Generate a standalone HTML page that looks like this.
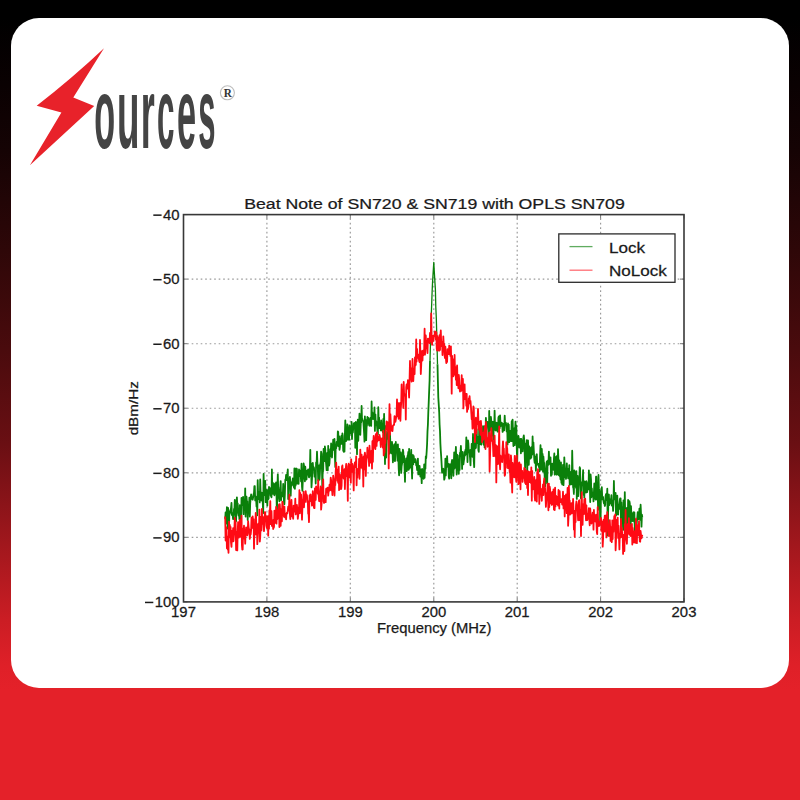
<!DOCTYPE html>
<html><head><meta charset="utf-8">
<style>
html,body{margin:0;padding:0;}
body{width:800px;height:800px;overflow:hidden;position:relative;
background:linear-gradient(to bottom,rgb(0,0,0) 0px,rgb(0,0,0) 18px,rgb(10,1,2) 84px,rgb(21,3,4) 150px,rgb(46,7,8) 250px,rgb(74,11,13) 350px,rgb(106,15,19) 444px,rgb(174,25,31) 568px,rgb(203,29,36) 620px,rgb(223,32,40) 665px,rgb(228,33,41) 690px,rgb(228,33,41) 800px);
font-family:"Liberation Sans",sans-serif;}
#card{position:absolute;left:10.5px;top:18px;width:778.5px;height:670.3px;background:#fff;border-radius:28px;}
svg{position:absolute;left:0;top:0;}
</style></head><body>
<div id="card"></div>
<svg width="800" height="800" viewBox="0 0 800 800">
<path d="M104,48.2L73.3,97.6L94.2,106L29.9,165.2L61.4,112.6L36.7,105.7Q71.7,78.6 104,48.2Z" fill="#e8222a"/>
<g fill="#444" font-family="Liberation Sans" font-weight="bold" font-size="100.6">
<text transform="translate(94.37,148.30) scale(0.3396,1)">o</text>
<text transform="translate(117.01,148.30) scale(0.3664,1)">u</text>
<text transform="translate(140.63,148.30) scale(0.3581,1)">r</text>
<text transform="translate(157.07,148.30) scale(0.3118,1)">c</text>
<text transform="translate(177.06,148.30) scale(0.3417,1)">e</text>
<text transform="translate(198.31,148.30) scale(0.3086,1)">s</text>
</g>
<circle cx="227.4" cy="92.8" r="7.0" fill="none" stroke="#bdbdbd" stroke-width="1.1"/>
<text transform="translate(227.8,96.9) scale(0.88,1)" text-anchor="middle" font-family="Liberation Serif" font-weight="bold" font-size="12.8" fill="#333">R</text>

<g stroke="#9a9a9a" stroke-width="1.15" stroke-dasharray="1.6 2.9" stroke-dashoffset="0.8" fill="none">
<line x1="266.9" y1="214.6" x2="266.9" y2="601.9"/><line x1="350.3" y1="214.6" x2="350.3" y2="601.9"/><line x1="433.8" y1="214.6" x2="433.8" y2="601.9"/><line x1="517.2" y1="214.6" x2="517.2" y2="601.9"/><line x1="600.6" y1="214.6" x2="600.6" y2="601.9"/><line x1="183.5" y1="279.1" x2="684.0" y2="279.1"/><line x1="183.5" y1="343.7" x2="684.0" y2="343.7"/><line x1="183.5" y1="408.2" x2="684.0" y2="408.2"/><line x1="183.5" y1="472.8" x2="684.0" y2="472.8"/><line x1="183.5" y1="537.3" x2="684.0" y2="537.3"/>
</g>
<g fill="none" stroke="#0a800a" stroke-linejoin="round">
<polyline points="225.2,518.8 225.6,512.3 226.0,523.6 226.5,517.6 226.9,507.2 227.3,513.3 227.7,528.5 228.1,507.9 228.5,528.1 229.0,528.3 229.4,511.5 229.8,514.0 230.2,510.9 230.6,509.9 231.0,508.3 231.5,502.9 231.9,515.0 232.3,512.8 232.7,515.3 233.1,519.2 233.5,517.7 234.0,508.9 234.4,510.2 234.8,499.8 235.2,510.9 235.6,516.4 236.1,521.3 236.5,502.5 236.9,497.3 237.3,505.7 237.7,503.4 238.1,513.1 238.6,515.6 239.0,511.9 239.4,519.1 239.8,505.1 240.2,522.1 240.6,526.8 241.1,532.3 241.5,498.0 241.9,503.5 242.3,503.5 242.7,505.0 243.1,496.8 243.6,514.2 244.0,501.0 244.4,499.7 244.8,508.6 245.2,488.3 245.6,516.6 246.1,502.2 246.5,496.7 246.9,502.4 247.3,501.3 247.7,520.0 248.1,509.6 248.6,510.2 249.0,509.1 249.4,497.6 249.8,516.5 250.2,503.1 250.7,497.6 251.1,494.5 251.5,497.0 251.9,498.8 252.3,498.7 252.7,499.6 253.2,496.8 253.6,494.2 254.0,492.7 254.4,486.1 254.8,486.2 255.2,500.4 255.7,496.5 256.1,498.1 256.5,506.5 256.9,500.9 257.3,515.3 257.7,480.1 258.2,498.1 258.6,499.1 259.0,492.0 259.4,494.2 259.8,502.4 260.2,479.5 260.7,496.5 261.1,495.2 261.5,500.5 261.9,492.7 262.3,494.1 262.7,501.4 263.2,513.0 263.6,473.9 264.0,495.3 264.4,492.9 264.8,488.2 265.2,480.8 265.7,502.2 266.1,492.0 266.5,496.1 266.9,490.0 267.3,505.7 267.8,490.6 268.2,499.3 268.6,498.6 269.0,487.0 269.4,489.8 269.8,488.0 270.3,489.9 270.7,495.6 271.1,495.3 271.5,497.3 271.9,469.5 272.3,488.8 272.8,482.7 273.2,493.9 273.6,488.8 274.0,484.1 274.4,495.3 274.8,493.0 275.3,483.3 275.7,493.5 276.1,482.4 276.5,494.0 276.9,515.4 277.3,490.8 277.8,474.3 278.2,488.2 278.6,490.0 279.0,498.4 279.4,501.4 279.8,492.8 280.3,487.7 280.7,481.1 281.1,500.1 281.5,492.5 281.9,494.5 282.3,493.3 282.8,496.4 283.2,483.8 283.6,491.7 284.0,502.1 284.4,504.3 284.9,493.2 285.3,479.7 285.7,479.8 286.1,474.9 286.5,480.2 286.9,478.1 287.4,474.6 287.8,469.4 288.2,499.1 288.6,492.2 289.0,479.0 289.4,479.9 289.9,476.9 290.3,481.5 290.7,495.6 291.1,484.8 291.5,482.5 291.9,485.7 292.4,482.7 292.8,478.5 293.2,482.6 293.6,480.5 294.0,487.7 294.4,468.5 294.9,488.8 295.3,471.4 295.7,485.4 296.1,468.5 296.5,475.4 296.9,468.9 297.4,483.6 297.8,477.1 298.2,481.1 298.6,483.9 299.0,469.5 299.4,471.1 299.9,470.5 300.3,476.0 300.7,474.9 301.1,481.4 301.5,463.7 302.0,486.7 302.4,490.8 302.8,480.7 303.2,477.1 303.6,463.5 304.0,465.7 304.5,470.5 304.9,481.3 305.3,466.7 305.7,474.6 306.1,478.9 306.5,479.5 307.0,470.9 307.4,470.5 307.8,470.7 308.2,469.3 308.6,475.1 309.0,477.4 309.5,475.9 309.9,469.9 310.3,449.8 310.7,475.7 311.1,463.5 311.5,487.3 312.0,479.2 312.4,468.0 312.8,462.9 313.2,468.7 313.6,467.0 314.0,467.9 314.5,476.6 314.9,472.9 315.3,471.1 315.7,483.5 316.1,462.5 316.5,467.2 317.0,451.7 317.4,462.0 317.8,467.4 318.2,480.3 318.6,480.7 319.1,465.5 319.5,479.6 319.9,473.2 320.3,464.1 320.7,462.0 321.1,451.6 321.6,453.9 322.0,471.4 322.4,493.6 322.8,462.0 323.2,470.9 323.6,448.8 324.1,455.1 324.5,461.2 324.9,446.5 325.3,449.7 325.7,460.0 326.1,463.6 326.6,470.2 327.0,453.1 327.4,454.5 327.8,470.3 328.2,445.8 328.6,461.0 329.1,465.7 329.5,463.2 329.9,454.7 330.3,449.1 330.7,456.2 331.1,443.5 331.6,450.9 332.0,457.5 332.4,448.9 332.8,447.8 333.2,439.6 333.7,445.4 334.1,450.3 334.5,439.0 334.9,456.3 335.3,467.0 335.7,447.0 336.2,448.1 336.6,442.0 337.0,445.4 337.4,445.7 337.8,431.5 338.2,431.9 338.7,446.1 339.1,436.2 339.5,449.8 339.9,447.1 340.3,439.0 340.7,441.1 341.2,436.2 341.6,443.9 342.0,438.2 342.4,433.4 342.8,436.0 343.2,450.5 343.7,451.8 344.1,443.1 344.5,451.6 344.9,434.3 345.3,420.4 345.7,432.0 346.2,441.0 346.6,431.2 347.0,437.2 347.4,424.3 347.8,439.5 348.2,432.3 348.7,427.1 349.1,439.8 349.5,425.3 349.9,434.0 350.3,427.2 350.8,429.0 351.2,433.2 351.6,421.8 352.0,439.0 352.4,427.1 352.8,432.6 353.3,428.2 353.7,423.6 354.1,423.1 354.5,428.2 354.9,423.0 355.3,447.8 355.8,421.9 356.2,426.2 356.6,427.7 357.0,454.2 357.4,425.5 357.8,419.7 358.3,440.8 358.7,422.7 359.1,423.0 359.5,413.6 359.9,430.0 360.3,434.9 360.8,422.0 361.2,422.4 361.6,406.0 362.0,419.5 362.4,419.0 362.8,420.7 363.3,420.8 363.7,426.8 364.1,433.0 364.5,441.6 364.9,416.5 365.3,427.0 365.8,419.9 366.2,440.2 366.6,426.8 367.0,425.3 367.4,416.9 367.9,419.7 368.3,417.9 368.7,422.3 369.1,425.0 369.5,425.7 369.9,420.4 370.4,417.8 370.8,425.6 371.2,425.9 371.6,401.4 372.0,419.1 372.4,412.3 372.9,415.7 373.3,414.3 373.7,419.1 374.1,418.7 374.5,407.4 374.9,430.9 375.4,414.4 375.8,424.0 376.2,421.1 376.6,423.2 377.0,426.2 377.4,430.9 377.9,434.6 378.3,407.2 378.7,422.1 379.1,417.6 379.5,428.0 379.9,425.3 380.4,422.5 380.8,430.4 381.2,420.5 381.6,427.8 382.0,428.0 382.4,430.3 382.9,432.2 383.3,419.0 383.7,436.0 384.1,413.8 384.5,436.1 385.0,464.1 385.4,426.2 385.8,456.0 386.2,457.6 386.6,435.2 387.0,439.2 387.5,431.3 387.9,434.6 388.3,428.1 388.7,440.5 389.1,453.8 389.5,452.7 390.0,433.6 390.4,445.0 390.8,451.9 391.2,453.3 391.6,449.6 392.0,441.8 392.5,449.3 392.9,462.3 393.3,449.8 393.7,460.0 394.1,445.0 394.5,444.2 395.0,461.1 395.4,454.6 395.8,442.0 396.2,450.5 396.6,447.0 397.0,445.3 397.5,460.6 397.9,444.3 398.3,454.7 398.7,468.7 399.1,475.3 399.5,448.8 400.0,469.7 400.4,457.2 400.8,452.5 401.2,472.9 401.6,466.4 402.1,463.4 402.5,455.9 402.9,449.7 403.3,451.9 403.7,462.0 404.1,456.0 404.6,469.2 405.0,481.8 405.4,462.6 405.8,465.4 406.2,458.3 406.6,471.2 407.1,469.9 407.5,455.8 407.9,455.9 408.3,451.9 408.7,469.8 409.1,448.8 409.6,468.4 410.0,456.9 410.4,467.2 410.8,459.9 411.2,449.9 411.6,463.7 412.1,478.5 412.5,455.5 412.9,454.9 413.3,464.3 413.7,456.0 414.1,459.8 414.6,462.0 415.0,461.0 415.4,459.2 415.8,460.7 416.2,465.5 416.6,463.2 417.1,470.0 417.5,467.3 417.9,458.6 418.3,474.4 418.7,467.0 419.2,474.0 419.6,466.0 420.0,473.1 420.4,476.6 420.8,469.7 421.2,471.6 421.7,483.2 422.1,469.0 422.5,471.4 422.9,477.5 423.3,475.3 423.7,478.8 424.2,464.4 424.6,477.8 425.0,466.9 425.4,468.6 425.8,456.3 426.2,458.3 426.7,451.0 427.1,443.8 427.5,431.4 427.9,424.7 428.3,412.5 428.7,402.9 429.2,390.0 429.6,380.5 430.0,360.5" stroke-width="1.8"/>
<polyline points="430.0,360.5 430.4,345.9 430.8,332.7 431.2,316.6 431.7,303.7 432.1,292.2 432.5,283.4 432.9,276.6 433.3,270.1 433.8,262.4 434.2,270.1 434.6,276.6 435.0,283.4 435.4,289.5 435.8,307.1 436.3,318.0 436.7,332.2 437.1,347.8 437.5,364.3" stroke-width="1.3"/>
<polyline points="437.5,364.3 437.9,381.4 438.3,397.5 438.8,405.4 439.2,412.5 439.6,424.7 440.0,431.3 440.4,443.8 440.8,451.0 441.3,458.3 441.7,465.5 442.1,472.8 442.5,471.1 442.9,469.6 443.3,468.7 443.8,470.0 444.2,479.6 444.6,478.4 445.0,474.0 445.4,458.6 445.8,475.4 446.3,460.4 446.7,466.9 447.1,456.1 447.5,463.8 447.9,465.0 448.3,463.8 448.8,476.9 449.2,478.7 449.6,467.7 450.0,464.1 450.4,466.3 450.9,466.6 451.3,478.3 451.7,462.1 452.1,459.9 452.5,460.5 452.9,463.8 453.4,475.8 453.8,464.0 454.2,452.4 454.6,468.5 455.0,462.7 455.4,458.0 455.9,446.9 456.3,461.4 456.7,474.5 457.1,454.6 457.5,464.5 457.9,467.7 458.4,468.0 458.8,473.8 459.2,455.3 459.6,469.9 460.0,452.7 460.4,454.6 460.9,446.0 461.3,455.5 461.7,454.9 462.1,468.9 462.5,452.0 462.9,463.7 463.4,464.3 463.8,461.2 464.2,458.5 464.6,451.8 465.0,455.6 465.4,449.8 465.9,454.4 466.3,437.5 466.7,449.1 467.1,447.0 467.5,462.0 468.0,440.4 468.4,443.3 468.8,452.3 469.2,449.8 469.6,451.9 470.0,457.4 470.5,465.3 470.9,449.6 471.3,456.3 471.7,443.8 472.1,450.6 472.5,456.8 473.0,434.0 473.4,450.9 473.8,461.4 474.2,467.1 474.6,442.8 475.0,448.7 475.5,440.1 475.9,448.0 476.3,439.2 476.7,429.2 477.1,443.0 477.5,442.8 478.0,437.1 478.4,450.2 478.8,451.9 479.2,427.5 479.6,432.0 480.0,435.9 480.5,444.1 480.9,435.7 481.3,444.7 481.7,432.1 482.1,438.5 482.5,439.3 483.0,426.2 483.4,442.3 483.8,444.8 484.2,426.3 484.6,447.4 485.1,426.7 485.5,434.2 485.9,417.8 486.3,425.9 486.7,423.9 487.1,424.7 487.6,421.9 488.0,428.1 488.4,430.9 488.8,444.1 489.2,410.9 489.6,430.8 490.1,423.3 490.5,422.9 490.9,416.9 491.3,421.0 491.7,435.7 492.1,427.7 492.6,421.9 493.0,423.5 493.4,439.6 493.8,421.6 494.2,429.6 494.6,410.6 495.1,429.8 495.5,424.8 495.9,430.5 496.3,422.7 496.7,423.0 497.1,423.1 497.6,431.7 498.0,431.6 498.4,417.8 498.8,416.4 499.2,423.4 499.6,428.5 500.1,415.5 500.5,426.3 500.9,423.1 501.3,425.7 501.7,422.6 502.2,424.2 502.6,431.9 503.0,430.8 503.4,423.8 503.8,426.1 504.2,430.4 504.7,415.6 505.1,424.0 505.5,424.5 505.9,422.8 506.3,426.1 506.7,431.4 507.2,425.9 507.6,444.5 508.0,423.4 508.4,434.1 508.8,424.6 509.2,442.1 509.7,433.5 510.1,430.9 510.5,438.9 510.9,441.2 511.3,433.2 511.7,421.2 512.2,441.1 512.6,419.6 513.0,432.8 513.4,446.0 513.8,434.9 514.2,428.3 514.7,445.2 515.1,430.4 515.5,421.6 515.9,443.3 516.3,425.3 516.7,445.5 517.2,464.1 517.6,439.7 518.0,439.2 518.4,435.8 518.8,438.7 519.3,447.5 519.7,439.3 520.1,445.6 520.5,438.8 520.9,453.3 521.3,439.0 521.8,446.7 522.2,442.9 522.6,451.4 523.0,443.6 523.4,437.6 523.8,435.3 524.3,440.8 524.7,454.4 525.1,467.9 525.5,455.2 525.9,443.3 526.3,451.6 526.8,440.1 527.2,473.3 527.6,455.4 528.0,440.4 528.4,450.3 528.8,464.8 529.3,446.3 529.7,453.4 530.1,453.8 530.5,458.6 530.9,447.8 531.3,457.5 531.8,446.8 532.2,454.6 532.6,436.4 533.0,452.7 533.4,442.3 533.8,450.3 534.3,459.6 534.7,462.8 535.1,459.3 535.5,456.7 535.9,470.8 536.4,454.9 536.8,454.2 537.2,464.6 537.6,463.3 538.0,464.8 538.4,463.9 538.9,467.1 539.3,464.4 539.7,471.1 540.1,454.7 540.5,445.2 540.9,455.9 541.4,469.7 541.8,448.9 542.2,460.7 542.6,453.9 543.0,471.7 543.4,456.5 543.9,463.7 544.3,462.8 544.7,478.2 545.1,486.5 545.5,478.5 545.9,473.2 546.4,466.2 546.8,461.3 547.2,483.3 547.6,462.5 548.0,460.5 548.4,464.9 548.9,451.6 549.3,463.2 549.7,463.8 550.1,462.7 550.5,457.3 551.0,475.8 551.4,468.0 551.8,474.6 552.2,463.6 552.6,469.3 553.0,465.3 553.5,469.9 553.9,459.0 554.3,453.5 554.7,474.7 555.1,460.0 555.5,459.2 556.0,456.9 556.4,474.2 556.8,474.8 557.2,455.6 557.6,474.0 558.0,449.2 558.5,461.5 558.9,475.3 559.3,460.5 559.7,475.9 560.1,474.7 560.5,479.5 561.0,462.4 561.4,482.8 561.8,477.6 562.2,484.4 562.6,479.6 563.0,464.8 563.5,485.2 563.9,475.0 564.3,457.3 564.7,466.7 565.1,477.1 565.5,472.0 566.0,478.9 566.4,472.9 566.8,463.3 567.2,472.8 567.6,468.7 568.1,478.3 568.5,474.3 568.9,474.2 569.3,465.1 569.7,484.9 570.1,477.3 570.6,474.5 571.0,471.8 571.4,484.3 571.8,480.2 572.2,450.7 572.6,469.8 573.1,487.2 573.5,488.4 573.9,493.9 574.3,470.3 574.7,472.4 575.1,485.8 575.6,477.6 576.0,487.8 576.4,471.1 576.8,498.9 577.2,478.8 577.6,475.8 578.1,496.2 578.5,487.0 578.9,479.0 579.3,483.4 579.7,467.2 580.1,468.4 580.6,495.5 581.0,498.6 581.4,487.8 581.8,482.1 582.2,483.5 582.6,481.9 583.1,470.1 583.5,494.8 583.9,482.2 584.3,497.7 584.7,481.4 585.2,484.4 585.6,489.2 586.0,492.6 586.4,481.2 586.8,482.7 587.2,492.2 587.7,487.1 588.1,488.5 588.5,489.4 588.9,470.5 589.3,484.7 589.7,477.8 590.2,502.0 590.6,474.5 591.0,479.4 591.4,497.3 591.8,488.4 592.2,494.0 592.7,494.3 593.1,493.6 593.5,501.4 593.9,492.5 594.3,483.5 594.7,488.1 595.2,498.3 595.6,499.6 596.0,476.7 596.4,476.7 596.8,486.9 597.2,499.6 597.7,492.3 598.1,509.8 598.5,475.0 598.9,488.4 599.3,490.2 599.7,495.2 600.2,523.7 600.6,520.1 601.0,491.0 601.4,491.5 601.8,487.2 602.3,499.3 602.7,497.4 603.1,496.9 603.5,501.0 603.9,503.4 604.3,502.2 604.8,506.0 605.2,504.8 605.6,495.9 606.0,494.1 606.4,497.6 606.8,500.0 607.3,488.7 607.7,535.6 608.1,514.1 608.5,495.7 608.9,494.5 609.3,505.2 609.8,499.3 610.2,499.4 610.6,503.3 611.0,500.0 611.4,495.2 611.8,505.5 612.3,500.5 612.7,503.7 613.1,510.9 613.5,501.2 613.9,480.9 614.3,499.4 614.8,497.6 615.2,499.1 615.6,492.9 616.0,515.7 616.4,512.5 616.8,508.6 617.3,495.7 617.7,514.1 618.1,514.6 618.5,505.0 618.9,509.4 619.4,503.6 619.8,500.0 620.2,498.3 620.6,498.3 621.0,524.2 621.4,502.4 621.9,516.3 622.3,507.1 622.7,515.9 623.1,529.9 623.5,500.3 623.9,503.4 624.4,524.3 624.8,492.1 625.2,515.5 625.6,516.0 626.0,516.9 626.4,532.2 626.9,507.9 627.3,508.9 627.7,530.9 628.1,499.9 628.5,523.9 628.9,514.2 629.4,501.1 629.8,503.4 630.2,518.8 630.6,532.0 631.0,506.1 631.4,516.8 631.9,517.9 632.3,521.2 632.7,515.6 633.1,512.9 633.5,512.2 634.0,521.4 634.4,512.4 634.8,531.1 635.2,521.0 635.6,519.9 636.0,521.4 636.5,527.9 636.9,520.8 637.3,517.4 637.7,512.2 638.1,519.3 638.5,519.1 639.0,517.9 639.4,508.6 639.8,512.4 640.2,519.9 640.6,504.7 641.0,513.2 641.5,526.7 641.9,514.7 642.3,517.4" stroke-width="1.8"/>
</g>
<polyline points="225.2,516.5 225.6,540.5 226.0,530.0 226.5,527.4 226.9,548.2 227.3,536.5 227.7,549.4 228.1,540.2 228.5,552.8 229.0,521.6 229.4,534.8 229.8,524.8 230.2,537.3 230.6,527.0 231.0,542.5 231.5,546.9 231.9,530.9 232.3,541.6 232.7,536.7 233.1,528.2 233.5,541.3 234.0,535.0 234.4,529.1 234.8,517.7 235.2,523.5 235.6,522.2 236.1,550.1 236.5,531.6 236.9,533.1 237.3,550.4 237.7,531.8 238.1,522.2 238.6,531.9 239.0,537.5 239.4,526.6 239.8,519.9 240.2,535.1 240.6,536.8 241.1,525.1 241.5,515.6 241.9,545.0 242.3,549.6 242.7,549.4 243.1,528.4 243.6,534.8 244.0,525.7 244.4,538.6 244.8,535.4 245.2,543.7 245.6,533.8 246.1,527.4 246.5,534.7 246.9,529.5 247.3,535.3 247.7,533.7 248.1,521.1 248.6,526.8 249.0,529.1 249.4,529.4 249.8,538.9 250.2,534.7 250.7,534.4 251.1,530.4 251.5,517.7 251.9,528.3 252.3,520.5 252.7,516.5 253.2,523.1 253.6,519.1 254.0,548.7 254.4,530.2 254.8,529.0 255.2,534.6 255.7,513.0 256.1,516.8 256.5,534.4 256.9,524.2 257.3,544.2 257.7,536.4 258.2,526.0 258.6,523.4 259.0,532.5 259.4,509.6 259.8,541.6 260.2,537.4 260.7,524.5 261.1,516.7 261.5,530.4 261.9,508.9 262.3,523.9 262.7,518.9 263.2,517.1 263.6,524.7 264.0,531.1 264.4,524.8 264.8,512.1 265.2,512.1 265.7,520.1 266.1,516.2 266.5,525.9 266.9,528.2 267.3,516.4 267.8,518.0 268.2,535.7 268.6,515.8 269.0,528.7 269.4,510.4 269.8,515.4 270.3,501.2 270.7,524.2 271.1,518.7 271.5,511.1 271.9,525.9 272.3,523.7 272.8,522.7 273.2,529.0 273.6,519.6 274.0,527.4 274.4,510.6 274.8,520.8 275.3,515.8 275.7,522.9 276.1,506.9 276.5,523.6 276.9,510.0 277.3,519.3 277.8,511.6 278.2,518.4 278.6,508.5 279.0,504.5 279.4,527.0 279.8,504.1 280.3,513.6 280.7,525.8 281.1,509.3 281.5,511.0 281.9,521.3 282.3,501.6 282.8,503.0 283.2,512.4 283.6,513.9 284.0,516.8 284.4,506.6 284.9,517.2 285.3,517.6 285.7,514.8 286.1,519.4 286.5,513.4 286.9,512.7 287.4,513.4 287.8,510.3 288.2,506.7 288.6,510.5 289.0,507.7 289.4,494.6 289.9,514.5 290.3,519.2 290.7,512.1 291.1,507.8 291.5,499.9 291.9,516.1 292.4,516.8 292.8,516.7 293.2,518.8 293.6,505.6 294.0,509.4 294.4,511.7 294.9,509.7 295.3,498.7 295.7,514.4 296.1,509.9 296.5,512.6 296.9,504.9 297.4,510.7 297.8,518.8 298.2,515.6 298.6,507.5 299.0,511.5 299.4,490.2 299.9,513.3 300.3,492.8 300.7,499.5 301.1,494.6 301.5,503.3 302.0,519.7 302.4,507.8 302.8,499.8 303.2,499.7 303.6,491.6 304.0,507.3 304.5,494.9 304.9,501.6 305.3,501.9 305.7,491.1 306.1,495.5 306.5,494.4 307.0,495.5 307.4,502.1 307.8,501.1 308.2,513.7 308.6,513.9 309.0,522.1 309.5,495.4 309.9,501.0 310.3,494.3 310.7,494.7 311.1,501.1 311.5,499.0 312.0,505.7 312.4,501.6 312.8,491.1 313.2,495.0 313.6,502.9 314.0,507.9 314.5,508.1 314.9,488.3 315.3,500.1 315.7,500.0 316.1,486.4 316.5,491.9 317.0,488.7 317.4,487.6 317.8,493.6 318.2,480.1 318.6,495.1 319.1,501.1 319.5,492.0 319.9,501.3 320.3,491.1 320.7,486.4 321.1,509.7 321.6,503.8 322.0,490.2 322.4,487.5 322.8,489.8 323.2,479.5 323.6,501.4 324.1,503.0 324.5,501.9 324.9,496.7 325.3,495.4 325.7,502.2 326.1,488.9 326.6,488.4 327.0,490.7 327.4,492.3 327.8,487.6 328.2,495.6 328.6,491.9 329.1,490.6 329.5,484.7 329.9,490.4 330.3,487.5 330.7,477.7 331.1,479.9 331.6,490.5 332.0,486.6 332.4,495.0 332.8,484.8 333.2,475.7 333.7,479.2 334.1,485.7 334.5,495.5 334.9,482.6 335.3,485.2 335.7,471.4 336.2,462.7 336.6,471.2 337.0,469.3 337.4,480.6 337.8,478.3 338.2,482.9 338.7,466.6 339.1,490.2 339.5,489.4 339.9,474.4 340.3,481.0 340.7,476.1 341.2,489.0 341.6,485.7 342.0,466.8 342.4,465.4 342.8,472.7 343.2,474.0 343.7,478.7 344.1,474.9 344.5,469.1 344.9,489.0 345.3,475.7 345.7,469.4 346.2,463.8 346.6,476.2 347.0,469.5 347.4,477.7 347.8,500.8 348.2,466.1 348.7,463.6 349.1,466.0 349.5,469.6 349.9,477.6 350.3,464.4 350.8,482.7 351.2,459.3 351.6,471.9 352.0,463.9 352.4,463.8 352.8,466.9 353.3,475.0 353.7,490.4 354.1,468.1 354.5,465.6 354.9,462.3 355.3,465.1 355.8,467.4 356.2,456.3 356.6,485.3 357.0,468.6 357.4,477.6 357.8,469.6 358.3,471.8 358.7,472.3 359.1,458.8 359.5,478.8 359.9,467.4 360.3,449.6 360.8,467.1 361.2,467.5 361.6,454.7 362.0,458.5 362.4,468.5 362.8,459.6 363.3,486.5 363.7,456.4 364.1,469.4 364.5,455.7 364.9,452.7 365.3,455.8 365.8,475.9 366.2,463.3 366.6,459.4 367.0,457.6 367.4,447.7 367.9,455.2 368.3,451.8 368.7,455.4 369.1,465.9 369.5,445.7 369.9,452.8 370.4,456.0 370.8,462.7 371.2,458.9 371.6,450.6 372.0,468.5 372.4,441.2 372.9,461.8 373.3,442.0 373.7,435.9 374.1,439.5 374.5,446.4 374.9,448.0 375.4,449.1 375.8,434.2 376.2,438.6 376.6,445.9 377.0,432.5 377.4,441.5 377.9,439.4 378.3,436.6 378.7,439.1 379.1,440.1 379.5,434.8 379.9,437.1 380.4,440.5 380.8,447.0 381.2,438.7 381.6,441.5 382.0,439.5 382.4,438.1 382.9,447.6 383.3,430.7 383.7,455.4 384.1,452.0 384.5,452.7 385.0,439.9 385.4,443.1 385.8,429.3 386.2,429.1 386.6,421.4 387.0,426.3 387.5,422.2 387.9,431.8 388.3,429.9 388.7,468.4 389.1,426.5 389.5,404.2 390.0,434.7 390.4,414.2 390.8,422.6 391.2,427.5 391.6,429.8 392.0,430.9 392.5,431.0 392.9,425.7 393.3,425.5 393.7,424.6 394.1,424.9 394.5,416.2 395.0,421.9 395.4,421.9 395.8,419.9 396.2,416.7 396.6,415.2 397.0,399.4 397.5,416.4 397.9,402.7 398.3,414.3 398.7,418.8 399.1,403.8 399.5,410.7 400.0,403.0 400.4,420.8 400.8,408.8 401.2,403.3 401.6,384.4 402.1,400.1 402.5,396.2 402.9,396.4 403.3,407.9 403.7,382.0 404.1,394.2 404.6,395.6 405.0,394.6 405.4,394.2 405.8,419.6 406.2,387.3 406.6,384.3 407.1,388.5 407.5,388.6 407.9,380.2 408.3,382.1 408.7,389.9 409.1,397.5 409.6,377.9 410.0,361.0 410.4,379.7 410.8,372.5 411.2,368.6 411.6,381.6 412.1,372.7 412.5,359.0 412.9,369.4 413.3,381.0 413.7,372.0 414.1,368.9 414.6,374.2 415.0,357.3 415.4,365.5 415.8,364.7 416.2,339.5 416.6,361.5 417.1,349.0 417.5,357.8 417.9,354.3 418.3,354.9 418.7,357.5 419.2,361.2 419.6,362.1 420.0,340.0 420.4,352.7 420.8,374.0 421.2,365.8 421.7,351.1 422.1,358.0 422.5,360.5 422.9,350.7 423.3,355.2 423.7,354.9 424.2,348.6 424.6,328.7 425.0,354.7 425.4,346.3 425.8,335.5 426.2,348.1 426.7,340.7 427.1,347.9 427.5,353.1 427.9,338.6 428.3,339.3 428.7,342.2 429.2,338.3 429.6,343.3 430.0,333.0 430.4,334.0 430.8,341.4 431.2,313.4 431.7,340.1 432.1,344.9 432.5,335.9 432.9,340.2 433.3,341.0 433.8,335.4 434.2,336.3 434.6,334.6 435.0,331.4 435.4,334.8 435.8,339.8 436.3,332.2 436.7,348.5 437.1,350.6 437.5,336.1 437.9,350.3 438.3,347.2 438.8,337.7 439.2,350.7 439.6,335.1 440.0,349.9 440.4,335.4 440.8,330.5 441.3,346.0 441.7,345.8 442.1,342.3 442.5,355.0 442.9,347.8 443.3,336.3 443.8,345.8 444.2,343.8 444.6,355.9 445.0,358.2 445.4,346.7 445.8,357.2 446.3,363.1 446.7,356.5 447.1,362.0 447.5,349.2 447.9,350.2 448.3,352.3 448.8,354.0 449.2,345.6 449.6,354.0 450.0,347.5 450.4,355.9 450.9,346.3 451.3,362.3 451.7,393.7 452.1,355.8 452.5,365.7 452.9,359.2 453.4,376.3 453.8,371.5 454.2,374.7 454.6,355.0 455.0,371.5 455.4,366.9 455.9,379.6 456.3,367.9 456.7,385.0 457.1,365.5 457.5,379.8 457.9,379.3 458.4,388.1 458.8,374.8 459.2,379.5 459.6,388.9 460.0,391.5 460.4,390.5 460.9,385.3 461.3,390.8 461.7,375.2 462.1,387.2 462.5,386.0 462.9,378.8 463.4,408.4 463.8,397.1 464.2,394.5 464.6,384.3 465.0,399.2 465.4,397.6 465.9,394.2 466.3,405.6 466.7,393.9 467.1,411.9 467.5,406.8 468.0,409.2 468.4,406.8 468.8,398.3 469.2,399.8 469.6,396.2 470.0,403.4 470.5,401.0 470.9,406.0 471.3,413.1 471.7,419.1 472.1,417.7 472.5,428.6 473.0,413.4 473.4,406.4 473.8,407.8 474.2,428.1 474.6,423.6 475.0,442.0 475.5,424.0 475.9,417.7 476.3,433.5 476.7,421.6 477.1,421.3 477.5,424.0 478.0,408.9 478.4,420.3 478.8,429.5 479.2,421.5 479.6,426.7 480.0,429.6 480.5,434.9 480.9,420.9 481.3,426.4 481.7,428.6 482.1,442.2 482.5,435.7 483.0,432.8 483.4,439.6 483.8,437.0 484.2,431.3 484.6,430.1 485.1,425.8 485.5,449.0 485.9,421.9 486.3,426.9 486.7,440.5 487.1,437.9 487.6,446.8 488.0,440.1 488.4,442.9 488.8,435.8 489.2,432.7 489.6,471.5 490.1,454.4 490.5,439.6 490.9,439.4 491.3,428.2 491.7,434.1 492.1,440.9 492.6,440.5 493.0,446.0 493.4,456.1 493.8,453.1 494.2,445.5 494.6,435.6 495.1,456.3 495.5,456.2 495.9,445.2 496.3,482.4 496.7,456.9 497.1,446.2 497.6,452.4 498.0,464.0 498.4,449.1 498.8,449.1 499.2,426.5 499.6,458.7 500.1,469.3 500.5,455.7 500.9,460.1 501.3,461.3 501.7,457.1 502.2,462.1 502.6,447.9 503.0,441.4 503.4,449.5 503.8,448.5 504.2,460.7 504.7,475.8 505.1,474.7 505.5,455.2 505.9,467.7 506.3,442.2 506.7,446.3 507.2,448.4 507.6,459.7 508.0,468.1 508.4,462.7 508.8,454.4 509.2,466.1 509.7,472.2 510.1,472.6 510.5,482.6 510.9,455.4 511.3,459.6 511.7,478.7 512.2,492.5 512.6,462.8 513.0,466.6 513.4,474.4 513.8,473.1 514.2,477.4 514.7,455.9 515.1,463.1 515.5,465.5 515.9,477.0 516.3,481.9 516.7,455.3 517.2,466.2 517.6,463.0 518.0,472.7 518.4,484.2 518.8,482.3 519.3,462.4 519.7,474.6 520.1,469.9 520.5,489.3 520.9,464.5 521.3,476.2 521.8,475.7 522.2,470.8 522.6,481.9 523.0,475.1 523.4,476.3 523.8,477.8 524.3,467.9 524.7,477.6 525.1,482.9 525.5,469.3 525.9,484.2 526.3,476.8 526.8,470.9 527.2,488.0 527.6,477.6 528.0,495.1 528.4,471.4 528.8,477.1 529.3,475.5 529.7,482.1 530.1,471.9 530.5,477.6 530.9,482.9 531.3,467.3 531.8,500.7 532.2,470.8 532.6,485.4 533.0,489.4 533.4,485.1 533.8,489.2 534.3,476.9 534.7,496.6 535.1,500.7 535.5,486.3 535.9,481.7 536.4,479.4 536.8,501.5 537.2,472.1 537.6,493.7 538.0,469.1 538.4,491.1 538.9,486.4 539.3,503.9 539.7,475.0 540.1,481.7 540.5,494.3 540.9,488.6 541.4,497.2 541.8,500.8 542.2,489.1 542.6,492.7 543.0,484.3 543.4,495.0 543.9,481.6 544.3,478.5 544.7,489.6 545.1,487.8 545.5,496.2 545.9,506.9 546.4,498.3 546.8,493.0 547.2,498.3 547.6,483.6 548.0,497.3 548.4,510.3 548.9,483.6 549.3,507.0 549.7,486.7 550.1,489.1 550.5,503.3 551.0,492.8 551.4,499.1 551.8,504.9 552.2,492.0 552.6,504.4 553.0,501.2 553.5,489.5 553.9,509.5 554.3,504.3 554.7,510.0 555.1,487.6 555.5,506.4 556.0,495.6 556.4,501.8 556.8,504.0 557.2,503.5 557.6,496.6 558.0,505.5 558.5,490.0 558.9,493.6 559.3,508.5 559.7,491.2 560.1,501.4 560.5,500.8 561.0,502.1 561.4,499.1 561.8,501.4 562.2,504.6 562.6,500.9 563.0,491.7 563.5,508.4 563.9,505.8 564.3,495.9 564.7,516.4 565.1,503.9 565.5,506.5 566.0,494.3 566.4,500.7 566.8,513.2 567.2,499.9 567.6,487.9 568.1,525.8 568.5,517.7 568.9,485.9 569.3,501.0 569.7,500.6 570.1,514.5 570.6,505.6 571.0,509.1 571.4,503.1 571.8,513.5 572.2,506.8 572.6,510.0 573.1,499.0 573.5,509.9 573.9,529.5 574.3,510.6 574.7,536.8 575.1,512.6 575.6,522.1 576.0,505.2 576.4,501.5 576.8,506.6 577.2,510.2 577.6,508.8 578.1,520.3 578.5,504.2 578.9,500.8 579.3,500.3 579.7,520.2 580.1,510.2 580.6,510.2 581.0,536.0 581.4,507.4 581.8,492.2 582.2,521.4 582.6,524.9 583.1,504.3 583.5,508.7 583.9,514.0 584.3,499.4 584.7,513.9 585.2,498.7 585.6,510.6 586.0,520.3 586.4,505.4 586.8,519.2 587.2,520.1 587.7,518.8 588.1,513.7 588.5,513.6 588.9,508.1 589.3,519.1 589.7,525.3 590.2,508.5 590.6,514.3 591.0,518.8 591.4,523.5 591.8,522.2 592.2,517.2 592.7,512.7 593.1,516.1 593.5,529.7 593.9,509.9 594.3,519.1 594.7,521.4 595.2,518.6 595.6,521.7 596.0,514.6 596.4,522.3 596.8,531.8 597.2,534.2 597.7,507.1 598.1,519.2 598.5,522.2 598.9,526.2 599.3,525.1 599.7,521.8 600.2,521.2 600.6,522.2 601.0,518.0 601.4,530.9 601.8,521.5 602.3,525.8 602.7,546.7 603.1,538.3 603.5,519.9 603.9,531.8 604.3,521.4 604.8,515.6 605.2,531.3 605.6,526.4 606.0,515.3 606.4,537.4 606.8,529.3 607.3,512.1 607.7,522.5 608.1,527.3 608.5,529.5 608.9,536.0 609.3,535.3 609.8,520.1 610.2,528.0 610.6,540.9 611.0,527.2 611.4,529.0 611.8,542.1 612.3,520.3 612.7,539.1 613.1,522.9 613.5,531.7 613.9,521.8 614.3,516.1 614.8,529.3 615.2,514.5 615.6,550.3 616.0,541.6 616.4,520.0 616.8,522.1 617.3,532.0 617.7,517.6 618.1,537.9 618.5,525.7 618.9,535.2 619.4,549.4 619.8,534.0 620.2,535.2 620.6,537.5 621.0,518.9 621.4,536.0 621.9,528.2 622.3,537.2 622.7,535.1 623.1,553.9 623.5,534.9 623.9,541.7 624.4,551.1 624.8,524.2 625.2,531.8 625.6,509.9 626.0,536.8 626.4,539.9 626.9,543.8 627.3,530.0 627.7,524.2 628.1,525.4 628.5,533.7 628.9,518.1 629.4,534.7 629.8,524.3 630.2,532.8 630.6,536.0 631.0,531.6 631.4,534.5 631.9,524.0 632.3,544.5 632.7,528.0 633.1,533.0 633.5,539.3 634.0,542.7 634.4,531.5 634.8,531.1 635.2,540.1 635.6,542.8 636.0,518.7 636.5,533.1 636.9,543.2 637.3,525.1 637.7,535.1 638.1,527.5 638.5,535.2 639.0,521.1 639.4,535.1 639.8,541.5 640.2,541.7 640.6,531.0 641.0,534.5 641.5,538.3 641.9,536.4 642.3,534.7" fill="none" stroke="#ff0a14" stroke-width="1.8" stroke-linejoin="round"/>
<path d="M183.5 601.9v-4M183.5 214.6v4M266.9 601.9v-4M266.9 214.6v4M350.3 601.9v-4M350.3 214.6v4M433.8 601.9v-4M433.8 214.6v4M517.2 601.9v-4M517.2 214.6v4M600.6 601.9v-4M600.6 214.6v4M684.0 601.9v-4M684.0 214.6v4M183.5 214.6h4M684.0 214.6h-4M183.5 279.1h4M684.0 279.1h-4M183.5 343.7h4M684.0 343.7h-4M183.5 408.2h4M684.0 408.2h-4M183.5 472.8h4M684.0 472.8h-4M183.5 537.3h4M684.0 537.3h-4M183.5 601.9h4M684.0 601.9h-4" stroke="#777" stroke-width="1" fill="none"/>
<rect x="183.5" y="214.6" width="500.5" height="387.29999999999995" fill="none" stroke="#383838" stroke-width="1.6"/>

<rect x="558.8" y="233.9" width="116.2" height="48.4" fill="#fff" stroke="#2a2a2a" stroke-width="1.3"/>
<line x1="569.5" y1="246.6" x2="592.5" y2="246.6" stroke="#0a800a" stroke-width="1.3" stroke-opacity="0.65"/>
<line x1="569.5" y1="270.2" x2="592.5" y2="270.2" stroke="#ff0a14" stroke-width="1.3" stroke-opacity="0.6"/>
<g fill="#1a1a1a" stroke="#1a1a1a" stroke-width="0.25" font-family="Liberation Sans" font-size="14.6">
<text transform="translate(609,252.7) scale(1.17,1)">Lock</text>
<text transform="translate(609,275.6) scale(1.17,1)">NoLock</text>
</g>

<g fill="#1a1a1a" font-family="Liberation Sans" font-size="14.3" stroke="#1a1a1a" stroke-width="0.25">
<text transform="translate(183.5,617.2) scale(1.04,1)" text-anchor="middle">197</text><text transform="translate(266.9,617.2) scale(1.04,1)" text-anchor="middle">198</text><text transform="translate(350.3,617.2) scale(1.04,1)" text-anchor="middle">199</text><text transform="translate(433.8,617.2) scale(1.04,1)" text-anchor="middle">200</text><text transform="translate(517.2,617.2) scale(1.04,1)" text-anchor="middle">201</text><text transform="translate(600.6,617.2) scale(1.04,1)" text-anchor="middle">202</text><text transform="translate(684.0,617.2) scale(1.04,1)" text-anchor="middle">203</text>
<text transform="translate(179.5,219.7) scale(1.04,1)" text-anchor="end">40</text><rect x="153.3" y="214.40" width="8.3" height="1.5" stroke="none"/><text transform="translate(179.5,284.2) scale(1.04,1)" text-anchor="end">50</text><rect x="153.3" y="278.95" width="8.3" height="1.5" stroke="none"/><text transform="translate(179.5,348.8) scale(1.04,1)" text-anchor="end">60</text><rect x="153.3" y="343.50" width="8.3" height="1.5" stroke="none"/><text transform="translate(179.5,413.4) scale(1.04,1)" text-anchor="end">70</text><rect x="153.3" y="408.05" width="8.3" height="1.5" stroke="none"/><text transform="translate(179.5,477.9) scale(1.04,1)" text-anchor="end">80</text><rect x="153.3" y="472.60" width="8.3" height="1.5" stroke="none"/><text transform="translate(179.5,542.4) scale(1.04,1)" text-anchor="end">90</text><rect x="153.3" y="537.15" width="8.3" height="1.5" stroke="none"/><text transform="translate(179.5,607.0) scale(1.04,1)" text-anchor="end">100</text><rect x="145.0" y="601.70" width="8.3" height="1.5" stroke="none"/>
</g>
<text x="434.5" y="209.1" text-anchor="middle" font-size="15.4" fill="#1a1a1a" stroke="#1a1a1a" stroke-width="0.25" font-family="Liberation Sans" transform="translate(434.5,0) scale(1.15,1) translate(-434.5,0)">Beat Note of SN720 &amp; SN719 with OPLS SN709</text>
<text x="434.2" y="633.3" text-anchor="middle" font-size="14.8" fill="#1a1a1a" stroke="#1a1a1a" stroke-width="0.25" font-family="Liberation Sans">Frequency (MHz)</text>
<text transform="translate(137.8,408.3) rotate(-90) scale(1.12,1)" text-anchor="middle" font-size="13.6" fill="#1a1a1a" stroke="#1a1a1a" stroke-width="0.25" font-family="Liberation Sans">dBm/Hz</text>
</svg>
</body></html>
